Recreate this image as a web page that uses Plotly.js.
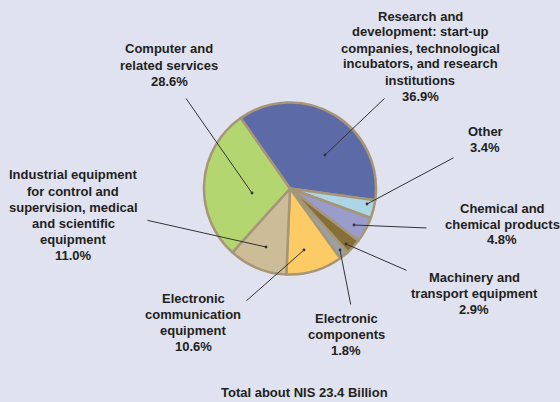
<!DOCTYPE html>
<html>
<head>
<meta charset="utf-8">
<script src="https://cdn.plot.ly/plotly-3.0.1.min.js"></script>
<style>html,body{margin:0;padding:0;background:#e0e2f0;}#chart{width:560px;height:402px;}</style>
</head>
<body>
<div id="chart"></div>
<script>
// ---- data ----
var categories = [
  "Research and development: start-up companies, technological incubators, and research institutions",
  "Other",
  "Chemical and chemical products",
  "Machinery and transport equipment",
  "Electronic components",
  "Electronic communication equipment",
  "Industrial equipment for control and supervision, medical and scientific equipment",
  "Computer and related services"
];
var values = [36.9, 3.4, 4.8, 2.9, 1.8, 10.6, 11.0, 28.6];
var labelLines = [
  ["Research and", "development: start-up", "companies, technological", "incubators, and research", "institutions"],
  ["Other"],
  ["Chemical and", "chemical products"],
  ["Machinery and", "transport equipment"],
  ["Electronic", "components"],
  ["Electronic", "communication", "equipment"],
  ["Industrial equipment", "for control and", "supervision, medical", "and scientific", "equipment"],
  ["Computer and", "related services"]
];
var totalText = "Total about NIS 23.4 Billion";

// ---- styles / layout positions (pixels) ----
var colors = ["#5c6aa8","#acd6e6","#9a9ccb","#856f36","#9ba0a5","#fdcb66","#ccbd98","#b4d670"];
var labelPos = [[420,56],[485,139],[502,224],[474,293],[346,334],[193,322],[73,215],[169,65]];
var dotPos   = [[325,155],[367,204],[354,225],[346,244],[340,250],[304,250],[266,247],[252,193]];
var tailPos  = [[386,97],[455,157],[428,228],[408,271],[351,306],[245,302],[146,220],[185,97]];
var lineStep = 16;

var W = 560, H = 402;
function px(x){return x/W;}
function py(y){return 1 - y/H;}

var cx = 290, cy = 188.5, R = 86;

var trace = {
  type: 'pie',
  values: values,
  labels: categories,
  sort: false,
  direction: 'clockwise',
  rotation: -35,
  textinfo: 'none',
  hoverinfo: 'label+percent',
  marker: {colors: colors, line: {color: '#a69677', width: 2.5}},
  domain: {x: [px(cx - R), px(cx + R)], y: [py(cy + R), py(cy - R)]},
  showlegend: false
};

var annotations = [];
var font = {family: '"Liberation Sans", Arial, sans-serif', size: 13, color: '#231f20'};
for (var i = 0; i < categories.length; i++) {
  var lines = labelLines[i].concat([values[i].toFixed(1) + '%']);
  var n = lines.length;
  for (var k = 0; k < n; k++) {
    annotations.push({
      xref: 'paper', yref: 'paper',
      x: px(labelPos[i][0]), y: py(labelPos[i][1] + (k - (n - 1) / 2) * lineStep),
      xanchor: 'center', yanchor: 'middle', align: 'center',
      text: '<b>' + lines[k] + '</b>',
      showarrow: false, font: font
    });
  }
  annotations.push({
    xref: 'paper', yref: 'paper',
    x: px(dotPos[i][0]), y: py(dotPos[i][1]),
    ax: tailPos[i][0] - dotPos[i][0], ay: tailPos[i][1] - dotPos[i][1],
    text: '', showarrow: true, arrowhead: 6, arrowsize: 0.7, arrowwidth: 1,
    arrowcolor: '#333333', standoff: 0, startstandoff: 0
  });
}
annotations.push({
  xref: 'paper', yref: 'paper', x: px(304), y: py(392),
  xanchor: 'center', yanchor: 'middle',
  text: '<b>' + totalText + '</b>', showarrow: false,
  font: font
});

var layout = {
  width: W, height: H,
  margin: {l: 0, r: 0, t: 0, b: 0},
  paper_bgcolor: '#e0e2f0',
  plot_bgcolor: '#e0e2f0',
  annotations: annotations
};

Plotly.newPlot('chart', [trace], layout, {displayModeBar: false, staticPlot: true});
</script>
</body>
</html>
